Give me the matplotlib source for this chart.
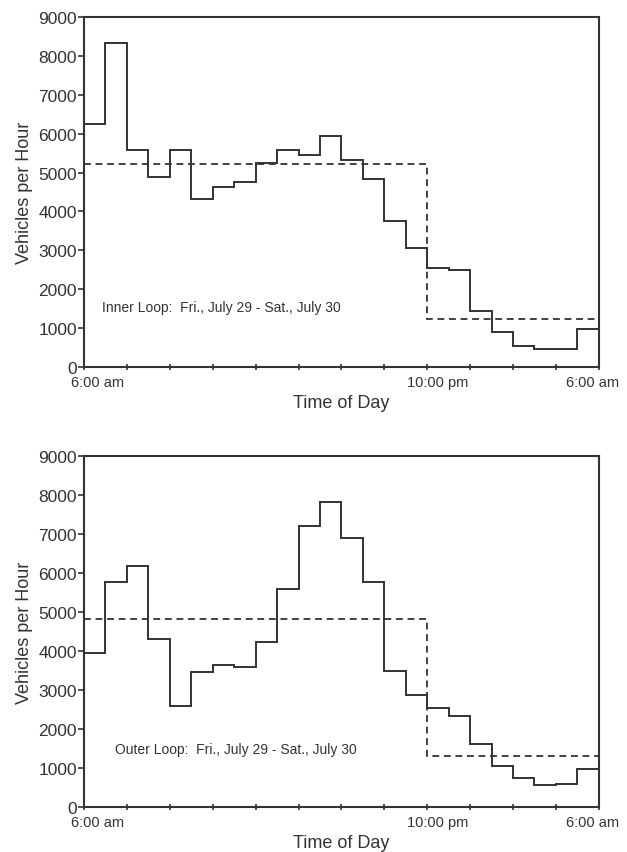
import matplotlib
matplotlib.use("Agg")
import matplotlib.pyplot as plt
from matplotlib.transforms import ScaledTranslation

plt.rcParams['font.family'] = ['Liberation Sans', 'DejaVu Sans']

# Hour boundaries, 6:00 am Friday to 6:00 am Saturday
hour_edges = list(range(0, 25))

# Hourly volumes (vehicles per hour)
inner_loop = [6260, 8320, 5580, 4890, 5580, 4330, 4640, 4760,
              5250, 5570, 5460, 5940, 5320, 4840, 3760, 3050,
              2550, 2490, 1440, 910, 550, 460, 460, 980]
outer_loop = [3940, 5760, 6180, 4310, 2580, 3450, 3640, 3590,
              4220, 5590, 7210, 7810, 6900, 5780, 3490, 2870,
              2550, 2340, 1610, 1050, 745, 560, 600, 970]

# Day (6 am - 10 pm) and night (10 pm - 6 am) average levels
period_edges = [0, 16, 24]
inner_avg = [5220, 1230]
outer_avg = [4830, 1300]

x_major = [0, 16, 24]
x_major_labels = ["6:00 am", "10:00 pm", "6:00 am"]
x_minor = list(range(0, 25, 2))
y_ticks = list(range(0, 9001, 1000))

panels = [
    (inner_loop, inner_avg, "Inner Loop:  Fri., July 29 - Sat., July 30", 0.84, 1540),
    (outer_loop, outer_avg, "Outer Loop:  Fri., July 29 - Sat., July 30", 1.45, 1480),
]

ink = "#333333"
fig = plt.figure(figsize=(6.27, 8.53), dpi=100)
rects = [[0.134, 0.5686, 0.821, 0.4103], [0.134, 0.0528, 0.821, 0.4115]]

for rect, (vals, avg, note, nx, ny) in zip(rects, panels):
    ax = fig.add_axes(rect)
    ax.stairs(vals, hour_edges, baseline=None, color=ink, linewidth=1.4)
    ax.stairs(avg, period_edges, baseline=None, color=ink, linewidth=1.3,
              linestyle=(0, (3.8, 2.6)))
    ax.set_xlim(0, 24)
    ax.set_ylim(0, 9000)
    for s in ax.spines.values():
        s.set_color(ink)
        s.set_linewidth(1.5)
    ax.set_yticks(y_ticks)
    ax.set_yticklabels([str(v) for v in y_ticks], fontsize=12.5, color=ink)
    ax.tick_params(axis='y', direction='out', length=4, width=1.2, color=ink, pad=1)
    ax.set_xticks(x_major)
    ax.set_xticklabels(x_major_labels, fontsize=10.5, color=ink)
    ax.set_xticks(x_minor, minor=True)
    ax.tick_params(axis='x', which='both', direction='inout', length=5, width=1.2,
                   color=ink, pad=3)
    shifts = [14, 10, -6]
    for lab, dx in zip(ax.get_xticklabels(), shifts):
        lab.set_transform(lab.get_transform() + ScaledTranslation(dx / 100, 0, fig.dpi_scale_trans))
    ax.set_xlabel("Time of Day", fontsize=13, color=ink, labelpad=4)
    ax.set_ylabel("Vehicles per Hour", fontsize=13, color=ink, labelpad=4)
    ax.text(nx, ny, note, fontsize=10, color=ink, va='center', ha='left')

fig.savefig("out.png", dpi=100)
